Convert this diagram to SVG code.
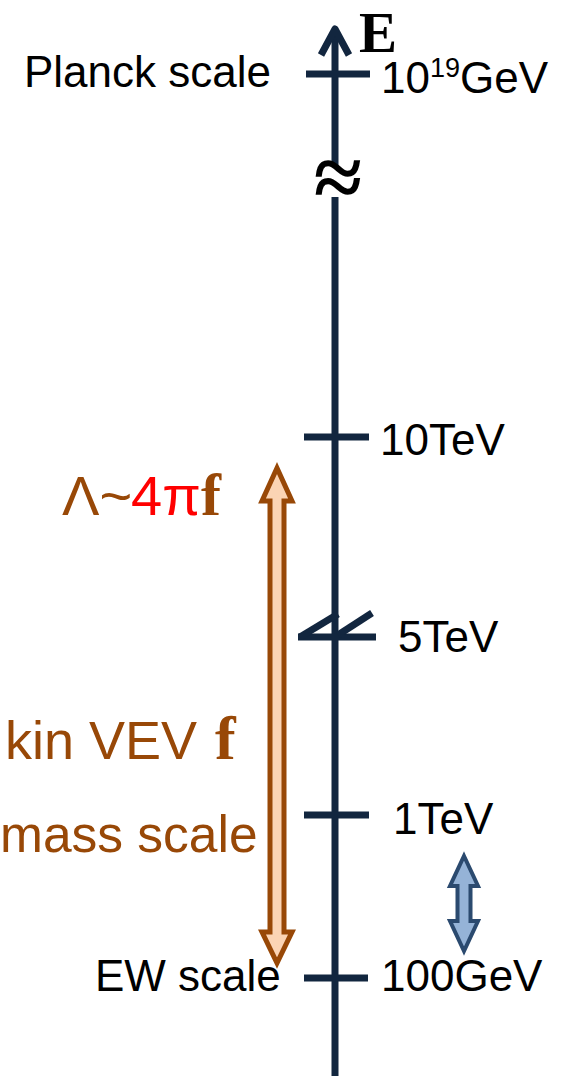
<svg xmlns="http://www.w3.org/2000/svg" width="568" height="1076" viewBox="0 0 568 1076">
<style>
.ax{stroke:#12263F;stroke-width:7;fill:none;stroke-linecap:butt}
.lbl{font-family:"Liberation Sans",Arial,sans-serif;font-size:44px;fill:#000}
.br{font-family:"Liberation Sans",Arial,sans-serif;fill:#984807}
.bf{font-family:"Liberation Serif","Times New Roman",serif;font-weight:bold;fill:#984807}
</style>
<rect width="568" height="1076" fill="#fff"/>
<g id="connectors">
<line class="ax" x1="335" y1="31" x2="335" y2="167"/>
<line class="ax" x1="335" y1="197" x2="335" y2="1076"/>
<polyline class="ax" points="321,55 335,29 349,55" stroke-linecap="round" stroke-linejoin="round"/>
</g>
<g id="node-planck">
<line class="ax" x1="306" y1="74" x2="370" y2="74"/>
<text class="lbl" x="24" y="87">Planck scale</text>
<text class="lbl" x="381" y="93">10<tspan font-size="27" dy="-16">19</tspan><tspan dy="16">GeV</tspan></text>
</g>
<g id="node-E">
<text x="359" y="52" font-family="Liberation Serif,'Times New Roman',serif" font-weight="bold" font-size="57" fill="#000">E</text>
</g>
<g id="node-break">
<text x="338" y="207" text-anchor="middle" font-family="Liberation Serif,'Times New Roman',serif" font-weight="bold" font-size="88" fill="#000">≈</text>
</g>
<g id="node-10TeV">
<line class="ax" x1="304" y1="437" x2="369" y2="437"/>
<text class="lbl" x="380" y="455">10TeV</text>
</g>
<g id="node-5TeV">
<line class="ax" x1="298" y1="637" x2="376" y2="637"/>
<line class="ax" x1="300" y1="637" x2="338" y2="614" stroke-width="6"/>
<line class="ax" x1="338" y1="635" x2="372" y2="613" stroke-width="6"/>
<text class="lbl" x="398" y="652">5TeV</text>
</g>
<g id="node-1TeV">
<line class="ax" x1="304" y1="815" x2="369" y2="815"/>
<text class="lbl" x="393" y="834">1TeV</text>
</g>
<g id="node-100GeV">
<line class="ax" x1="304" y1="978" x2="368" y2="978"/>
<text class="lbl" x="381" y="991">100GeV</text>
<text class="lbl" x="95" y="991">EW scale</text>
</g>
<g id="node-lambda">
<text y="515" font-size="56"><tspan class="br" x="62">Λ~</tspan><tspan x="131" font-family="Liberation Sans,Arial,sans-serif" fill="#FF0000">4π</tspan><tspan class="bf" x="201" font-size="60">f</tspan></text>
</g>
<g id="node-vev">
<text y="759"><tspan class="br" x="5" font-size="54">kin VEV </tspan><tspan class="bf" x="215" font-size="62">f</tspan></text>
<text class="br" x="0" y="852" font-size="51.5">mass scale</text>
</g>
<g id="node-brown-arrow">
<path d="M277,468 L292,501 L284,501 L284,932 L292,932 L277,963 L262,932 L270,932 L270,501 L262,501 Z" fill="#FBD4B4" stroke="#984807" stroke-width="5" stroke-linejoin="miter"/>
</g>
<g id="node-blue-arrow">
<path d="M464,856 L478,886 L470.5,886 L470.5,921 L478,921 L464,951 L450,921 L457.5,921 L457.5,886 L450,886 Z" fill="#95B3D7" stroke="#2B4A6F" stroke-width="4"/>
</g>
</svg>
